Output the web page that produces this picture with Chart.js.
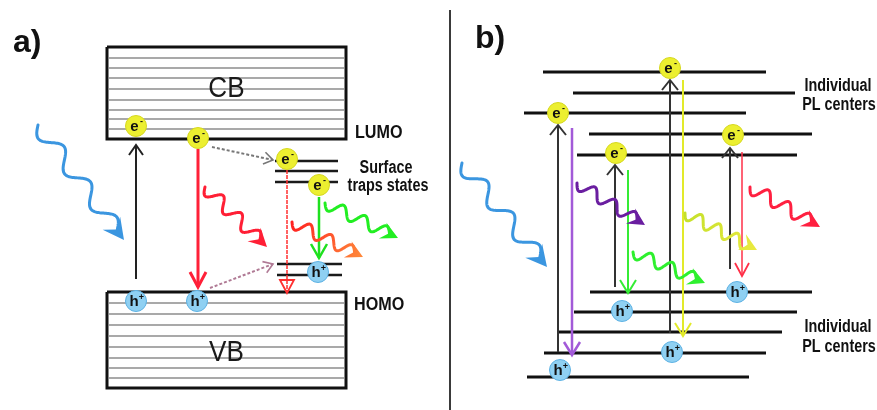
<!DOCTYPE html>
<html><head><meta charset="utf-8">
<script src="https://cdn.jsdelivr.net/npm/chart.js@4/dist/chart.umd.min.js"></script>
<style>html,body{margin:0;padding:0;background:#fff;overflow:hidden}canvas{display:block}</style>
</head><body>
<canvas id="c" width="877" height="410"></canvas>
<script>
// ================= DATA (diagram units: x across, y = energy axis, drawn downward) =================
const panelLabels = ['a)', 'b)'];
const panelLabelX = [13, 475];
const panelLabelY = [52, 48];

// Panel a: bands
const bandX = [107, 346];
const cbEdges = [47, 139];
const vbEdges = [292, 388];
const cbSublevels = [58, 68, 78, 89, 100, 110, 119, 129];
const vbSublevels = [303, 314, 325, 336, 347, 358, 368, 378];
const bandNames = ['CB', 'VB'];
const bandNameY = [97, 361];

// Panel a: surface trap states
const trapStart = [275, 275, 275, 277, 277];
const trapEnd = [338, 338, 338, 342, 342];
const trapLevels = [161, 171, 182, 264, 275];

// Panel b: individual PL centre levels
const plLevels = [72, 93, 113, 134, 155, 292, 312, 332, 353, 377];
const plStart = [543, 573, 524, 589, 577, 590, 574, 559, 544, 527];
const plEnd = [766, 795, 746, 812, 797, 812, 797, 782, 766, 749];

// Carriers
const electronX = [136, 198, 287, 319, 558, 670, 616, 733];
const electronY = [126, 138, 159, 185, 113, 68, 153, 135];
const holeX = [136, 197, 318, 622, 560, 672, 737];
const holeY = [301, 301, 272, 311, 370, 352, 292];

// Vertical transitions (excitation up, recombination down)
const transX = [136, 198, 287, 319, 558, 572, 615, 628, 670, 683, 730, 742];
const transFrom = [279, 149, 170, 197, 352, 128, 287, 170, 333, 80, 269, 152];
const transTo = [145, 287, 293, 258, 125, 355, 165, 293, 80, 336, 148, 276];

// Trapping hops (dotted)
const hopFromX = [212, 210];
const hopFromY = [147, 288];
const hopToX = [273, 273];
const hopToY = [160, 264];

// Photons (wavy arrows)
const photonFromX = [38, 205, 292, 325, 462, 577, 633, 685, 750];
const photonFromY = [125, 187, 222, 203, 163, 183, 252, 213, 187];
const photonToX = [124, 267, 363, 398, 547, 645, 705, 757, 820];
const photonToY = [240, 247, 257, 238, 267, 225, 283, 250, 227];
const photonWaves = [3, 3, 3, 3, 3, 3, 3, 3.5, 3];

// Annotations
const noteTexts = ['LUMO', 'HOMO', 'Surface', 'traps states', 'Individual', 'PL centers', 'Individual', 'PL centers'];
const noteX = [355, 354, 386, 388, 838, 839, 838, 839];
const noteY = [138, 310, 173, 191, 91, 110, 332, 352];

// Divider between panels
const dividerX = [450];
const dividerY = [10, 410];

// ================= STYLES =================
const transColors = ['#222222', '#ff2038', '#ff3030', '#1fe01f', '#333333', '#a25ad8', '#333333', '#35ec35', '#333333', '#e2ea2a', '#333333', '#ff3048'];
const transWidths = [2, 3, 1.5, 2.5, 2, 2.5, 2, 2, 2, 2, 2, 1.5];
const transHeadLen = [10, 15, 13, 14, 10, 13, 10, 13, 10, 13, 10, 13];
const transHeadW = [7, 8, 7, 8, 8, 8, 8, 8, 8, 8, 8, 7];
const transHeadStyle = ['open', 'open', 'tri', 'open', 'open', 'open', 'open', 'open', 'open', 'open', 'open', 'open'];
const hopColors = ['#777777', '#b07a95'];
const photonColors = ['#3b96e0', '#ff1f35', ['#ff2020', '#ff8a3a'], '#22ee22', '#3b96e0', '#6a1ea0', '#2ef02e', ['#c4e02a', '#eaea40'], '#ff2040'];
const photonAmp = [8, 6.5, 6, 6, 8, 6, 6, 6, 6.5];
const photonHead = [21, 18, 17, 17, 21, 17, 17, 17, 18];
const noteSize = [19, 19, 18, 18, 18, 18, 18, 18];
const noteSquash = [0.85, 0.85, 0.8, 0.8, 0.8, 0.8, 0.8, 0.8];
const noteAlign = ['left', 'left', 'center', 'center', 'center', 'center', 'center', 'center'];
const SANS = '"Liberation Sans", Arial, sans-serif';

// ================= BUILD DATASETS =================
const datasets = [];
function addLine(pts, color, width, dash) {
  datasets.push({data: pts, showLine: true, borderColor: color, borderWidth: width, borderDash: dash || [],
    pointRadius: 0, pointHoverRadius: 0, borderCapStyle: 'butt', borderJoinStyle: 'miter', tension: 0, fill: false});
}
addLine([{x: dividerX[0], y: dividerY[0]}, {x: dividerX[0], y: dividerY[1]}], '#3a3a3a', 2);
cbSublevels.concat(vbSublevels).forEach(y => addLine([{x: bandX[0] + 2, y}, {x: bandX[1] - 2, y}], '#a9a9a9', 2));
[cbEdges, vbEdges].forEach(e => addLine([
  {x: bandX[0], y: e[0]}, {x: bandX[1], y: e[0]}, {x: bandX[1], y: e[1]}, {x: bandX[0], y: e[1]}, {x: bandX[0], y: e[0]}
], '#111111', 3));
trapLevels.forEach((y, i) => addLine([{x: trapStart[i], y}, {x: trapEnd[i], y}], '#1a1a1a', 2.5));
plLevels.forEach((y, i) => addLine([{x: plStart[i], y}, {x: plEnd[i], y}], '#111111', 3));
transX.forEach((x, i) => addLine([{x, y: transFrom[i]}, {x, y: transTo[i]}], transColors[i], transWidths[i],
  (i === 2) ? [4, 1] : []));
hopFromX.forEach((x, i) => addLine([{x, y: hopFromY[i]}, {x: hopToX[i], y: hopToY[i]}], hopColors[i], 2, [3, 2]));
const carrierIdx = datasets.length;
datasets.push({
  data: electronX.map((x, i) => ({x, y: electronY[i]})),
  showLine: false, pointStyle: 'circle', pointRadius: 10.5, pointHoverRadius: 10.5,
  backgroundColor: '#ecef30', borderColor: '#d6d820', borderWidth: 1
});
datasets.push({
  data: holeX.map((x, i) => ({x, y: holeY[i]})),
  showLine: false, pointStyle: 'circle', pointRadius: 10.5, pointHoverRadius: 10.5,
  backgroundColor: '#8fd0f2', borderColor: '#5eb2e4', borderWidth: 1
});
datasets.forEach((d, i) => { d.order = -i; });

// ================= DRAW HELPERS =================
function px(chart, x, y) { return [chart.scales.x.getPixelForValue(x), chart.scales.y.getPixelForValue(y)]; }

function drawHead(ctx, tx, ty, ux, uy, len, hw, style) {
  const nx = -uy, ny = ux;
  const bx = tx - ux * len, by = ty - uy * len;
  ctx.beginPath();
  ctx.moveTo(bx + nx * hw, by + ny * hw);
  ctx.lineTo(tx, ty);
  ctx.lineTo(bx - nx * hw, by - ny * hw);
  if (style === 'tri') ctx.closePath();
  ctx.setLineDash([]);
  ctx.stroke();
}

function drawPhoton(ctx, sx, sy, ex, ey, waves, color, amp, head) {
  const dx = ex - sx, dy = ey - sy, L = Math.hypot(dx, dy);
  const ux = dx / L, uy = dy / L, nx = -uy, ny = ux;
  const body = L - head * 0.55;
  let stroke = color;
  if (Array.isArray(color)) {
    const g = ctx.createLinearGradient(sx, sy, ex, ey);
    g.addColorStop(0, color[0]); g.addColorStop(1, color[1]);
    stroke = g;
  }
  ctx.save();
  ctx.strokeStyle = stroke; ctx.fillStyle = stroke;
  ctx.lineWidth = 3; ctx.lineCap = 'round'; ctx.lineJoin = 'round';
  ctx.beginPath();
  const N = 160;
  for (let i = 0; i <= N; i++) {
    const t = body * i / N;
    const o = amp * Math.sin(2 * Math.PI * waves * t / body);
    const X = sx + ux * t + nx * o, Y = sy + uy * t + ny * o;
    if (i === 0) ctx.moveTo(X, Y); else ctx.lineTo(X, Y);
  }
  ctx.stroke();
  const bx = ex - ux * head, by = ey - uy * head;
  const hw = head * 0.52;
  ctx.beginPath();
  ctx.moveTo(ex, ey);
  ctx.lineTo(bx + nx * hw, by + ny * hw);
  ctx.lineTo(ex - ux * head * 0.62, ey - uy * head * 0.62);
  ctx.lineTo(bx - nx * hw, by - ny * hw);
  ctx.closePath();
  ctx.fill();
  ctx.restore();
}

const diagramPlugin = {
  id: 'diagram',
  beforeDraw(chart) {
    const c = chart.ctx; c.save(); c.fillStyle = '#fff'; c.fillRect(0, 0, chart.width, chart.height); c.restore();
  },
  beforeDatasetDraw(chart, args) {
    if (args.index !== carrierIdx) return;
    const ctx = chart.ctx;
    ctx.save();
    transX.forEach((x, i) => {
      const [tx, ty] = px(chart, x, transTo[i]);
      const [fx, fy] = px(chart, x, transFrom[i]);
      const d = Math.hypot(tx - fx, ty - fy);
      ctx.strokeStyle = transColors[i];
      ctx.lineWidth = Math.max(transWidths[i], 1.8);
      ctx.lineJoin = 'miter'; ctx.lineCap = 'butt';
      drawHead(ctx, tx, ty, (tx - fx) / d, (ty - fy) / d, transHeadLen[i], transHeadW[i], transHeadStyle[i]);
    });
    hopFromX.forEach((x, i) => {
      const [fx, fy] = px(chart, x, hopFromY[i]);
      const [tx, ty] = px(chart, hopToX[i], hopToY[i]);
      const d = Math.hypot(tx - fx, ty - fy);
      ctx.strokeStyle = hopColors[i]; ctx.lineWidth = 1.6;
      drawHead(ctx, tx, ty, (tx - fx) / d, (ty - fy) / d, 9, 6, 'open');
    });
    ctx.restore();
    photonFromX.forEach((x, i) => {
      const [sx, sy] = px(chart, x, photonFromY[i]);
      const [ex, ey] = px(chart, photonToX[i], photonToY[i]);
      drawPhoton(ctx, sx, sy, ex, ey, photonWaves[i], photonColors[i], photonAmp[i], photonHead[i]);
    });
  },
  afterDatasetsDraw(chart) {
    const ctx = chart.ctx;
    ctx.save();
    ctx.fillStyle = '#111';
    electronX.forEach((x, i) => {
      const [cx, cy] = px(chart, x, electronY[i]);
      ctx.textAlign = 'center'; ctx.textBaseline = 'middle';
      ctx.font = 'bold 15px ' + SANS; ctx.fillText('e', cx - 1.5, cy + 0.5);
      ctx.font = 'bold 9px ' + SANS; ctx.fillText('-', cx + 5.5, cy - 4);
    });
    holeX.forEach((x, i) => {
      const [cx, cy] = px(chart, x, holeY[i]);
      ctx.textAlign = 'center'; ctx.textBaseline = 'middle';
      ctx.font = 'bold 15px ' + SANS; ctx.fillText('h', cx - 2, cy + 0.5);
      ctx.font = 'bold 9px ' + SANS; ctx.fillText('+', cx + 5.5, cy - 3);
    });
    ctx.textBaseline = 'alphabetic'; ctx.textAlign = 'center';
    ctx.font = '29px ' + SANS; ctx.fillStyle = '#1a1a1a';
    bandNames.forEach((t, i) => {
      const [cx, cy] = px(chart, (bandX[0] + bandX[1]) / 2, bandNameY[i]);
      ctx.save(); ctx.translate(cx, cy); ctx.scale(0.9, 1); ctx.fillText(t, 0, 0); ctx.restore();
    });
    ctx.fillStyle = '#111';
    noteTexts.forEach((t, i) => {
      const [cx, cy] = px(chart, noteX[i], noteY[i]);
      ctx.save();
      ctx.translate(cx, cy); ctx.scale(noteSquash[i], 1);
      ctx.font = 'bold ' + noteSize[i] + 'px ' + SANS; ctx.textAlign = noteAlign[i];
      ctx.fillText(t, 0, 0);
      ctx.restore();
    });
    ctx.font = 'bold 32px ' + SANS; ctx.textAlign = 'left';
    panelLabels.forEach((t, i) => {
      const [cx, cy] = px(chart, panelLabelX[i], panelLabelY[i]);
      ctx.fillText(t, cx, cy);
    });
    ctx.restore();
  }
};

new Chart(document.getElementById('c'), {
  type: 'scatter',
  data: {datasets},
  options: {
    responsive: false, animation: false, devicePixelRatio: 1, events: [],
    layout: {padding: 0, autoPadding: false},
    plugins: {legend: {display: false}, tooltip: {enabled: false}},
    scales: {
      x: {type: 'linear', min: 0, max: 877, display: false},
      y: {type: 'linear', min: 0, max: 410, reverse: true, display: false}
    }
  },
  plugins: [diagramPlugin]
});
</script>
</body></html>
